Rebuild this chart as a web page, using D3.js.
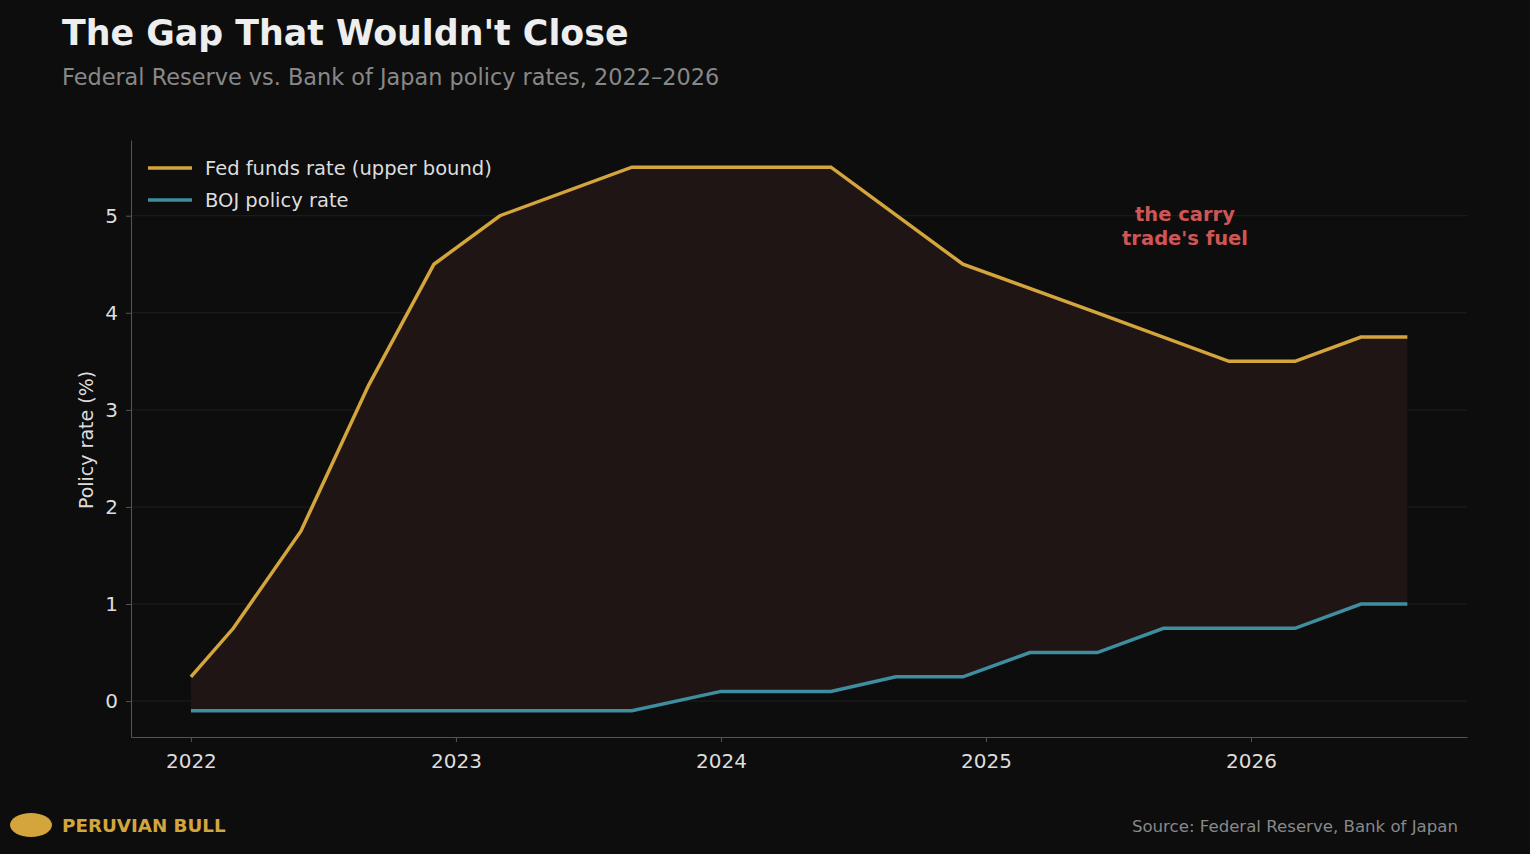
<!DOCTYPE html>
<html><head><meta charset="utf-8">
<script src="https://cdn.jsdelivr.net/npm/d3@7"></script>
<style>
body{margin:0;background:#0d0d0d;}
svg{font-family:"DejaVu Sans",sans-serif;}
</style></head><body>
<svg id="c" width="1530" height="854"></svg>
<script>
// Fed funds upper bound, as decimal years
var fedYears = [2022.0, 2022.16, 2022.415, 2022.67, 2022.917, 2023.166, 2023.664, 2024.415, 2024.913, 2025.42, 2025.917, 2026.166, 2026.415, 2026.59];
var fedRates = [0.25, 0.75, 1.75, 3.25, 4.5, 5.0, 5.5, 5.5, 4.5, 4.0, 3.5, 3.5, 3.75, 3.75];
// BOJ policy rate
var bojYears = [2022.0, 2023.664, 2024.0, 2024.415, 2024.66, 2024.913, 2025.166, 2025.42, 2025.67, 2026.166, 2026.415, 2026.59];
var bojRates = [-0.1, -0.1, 0.1, 0.1, 0.25, 0.25, 0.5, 0.5, 0.75, 0.75, 1.0, 1.0];
var yearTicks = [2022, 2023, 2024, 2025, 2026];
var rateTicks = [0, 1, 2, 3, 4, 5];

var svg = d3.select("#c");
var x = d3.scaleLinear().domain([2021.774, 2026.815]).range([131, 1467]);
var y = d3.scaleLinear().domain([-0.37, 5.78]).range([737, 140]);

var fed = fedYears.map(function (d, i) { return {x: d, y: fedRates[i]}; });
var boj = bojYears.map(function (d, i) { return {x: d, y: bojRates[i]}; });

// gridlines
svg.append("g").selectAll("line").data(rateTicks).enter().append("line")
  .attr("x1", 131).attr("x2", 1467)
  .attr("y1", function (d) { return y(d); }).attr("y2", function (d) { return y(d); })
  .attr("stroke", "#1f1f1f").attr("stroke-width", 1);

var line = d3.line().x(function (d) { return x(d.x); }).y(function (d) { return y(d.y); });

// fill between: fed on top, boj reversed at bottom
svg.append("path")
  .attr("d", line(fed.concat(boj.slice().reverse())) + "Z")
  .attr("fill", "#1e1514");

svg.append("path").attr("d", line(fed)).attr("fill", "none").attr("stroke", "#d4a53c").attr("stroke-width", 3.5);
svg.append("path").attr("d", line(boj)).attr("fill", "none").attr("stroke", "#3e8ea0").attr("stroke-width", 3.5);

// axes
var xAxis = svg.append("g").attr("transform", "translate(0,737)")
  .call(d3.axisBottom(x).tickValues(yearTicks).tickFormat(d3.format("d")).tickSizeInner(5).tickSizeOuter(0).tickPadding(8));
var yAxis = svg.append("g").attr("transform", "translate(131,0)")
  .call(d3.axisLeft(y).tickValues(rateTicks).tickFormat(d3.format("d")).tickSizeInner(5).tickSizeOuter(0).tickPadding(8));
[xAxis, yAxis].forEach(function (a) {
  a.select(".domain").attr("stroke", "#555");
  a.selectAll(".tick line").attr("stroke", "#555");
  a.selectAll("text").attr("fill", "#ddd").attr("font-size", 20).attr("font-family", "DejaVu Sans");
});
xAxis.selectAll("text").attr("dy", "0.9em");

svg.append("text").attr("transform", "translate(93,440) rotate(-90)")
  .attr("text-anchor", "middle").attr("fill", "#ddd").attr("font-size", 19).text("Policy rate (%)");

// legend
var legend = [["Fed funds rate (upper bound)", "#d4a53c"], ["BOJ policy rate", "#3e8ea0"]];
legend.forEach(function (l, i) {
  var ly = 168 + i * 32;
  svg.append("line").attr("x1", 148).attr("x2", 192).attr("y1", ly).attr("y2", ly)
    .attr("stroke", l[1]).attr("stroke-width", 3.5);
  svg.append("text").attr("x", 205).attr("y", ly + 7).attr("fill", "#ddd").attr("font-size", 19.5).text(l[0]);
});

// annotation
svg.append("text").attr("x", 1185).attr("y", 221).attr("text-anchor", "middle")
  .attr("fill", "#cd5656").attr("font-size", 19.5).attr("font-weight", "bold").text("the carry");
svg.append("text").attr("x", 1185).attr("y", 245).attr("text-anchor", "middle")
  .attr("fill", "#cd5656").attr("font-size", 19.5).attr("font-weight", "bold").text("trade's fuel");

// titles
svg.append("text").attr("x", 62).attr("y", 45).attr("fill", "#eee").attr("font-size", 34.8)
  .attr("font-weight", "bold").text("The Gap That Wouldn't Close");
svg.append("text").attr("x", 62).attr("y", 85).attr("fill", "#888").attr("font-size", 22.4)
  .text("Federal Reserve vs. Bank of Japan policy rates, 2022\u20132026");

// footer
svg.append("ellipse").attr("cx", 31).attr("cy", 825).attr("rx", 21).attr("ry", 12).attr("fill", "#d4a53c");
svg.append("text").attr("x", 62).attr("y", 832).attr("fill", "#d4a53c").attr("font-size", 18.3)
  .attr("font-weight", "bold").text("PERUVIAN BULL");
svg.append("text").attr("x", 1458).attr("y", 832).attr("text-anchor", "end").attr("fill", "#888")
  .attr("font-size", 16.6).text("Source: Federal Reserve, Bank of Japan");
</script>
</body></html>
